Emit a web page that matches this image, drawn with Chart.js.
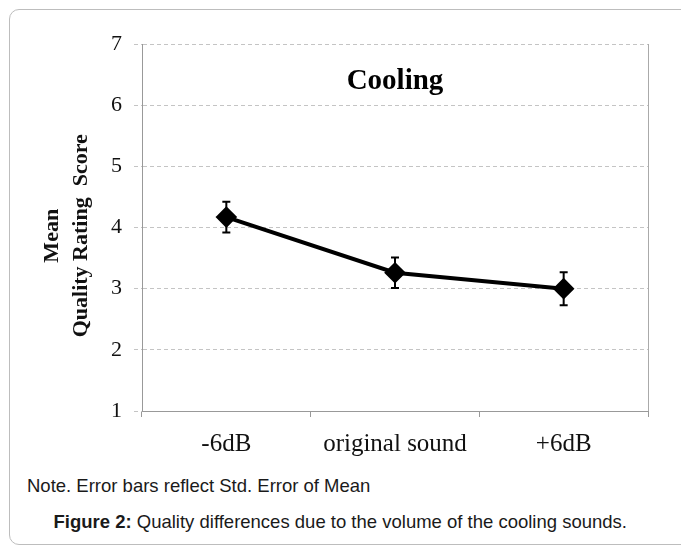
<!DOCTYPE html>
<html>
<head>
<meta charset="utf-8">
<script src="https://cdn.jsdelivr.net/npm/chart.js@4.4.1/dist/chart.umd.min.js"></script>
<style>
  html, body { margin: 0; padding: 0; background: #fff; }
  body { width: 681px; height: 548px; position: relative; overflow: hidden; }
  .frame {
    position: absolute; left: 9px; top: 9px; width: 700px; height: 536px;
    border: 1px solid #bdbdbd; border-radius: 10px; box-sizing: border-box;
  }
  #chart { position: absolute; left: 0; top: 0; }
  .note {
    position: absolute; left: 27px; top: 475px;
    font: 18.5px "Liberation Sans", Arial, sans-serif; color: #1a1a1a; white-space: nowrap;
  }
  .caption {
    position: absolute; right: 54px; top: 511px; text-align: right;
    font: 18.5px "Liberation Sans", Arial, sans-serif; color: #1a1a1a; white-space: nowrap;
  }
</style>
</head>
<body>
<div class="frame"></div>
<canvas id="chart" width="681" height="470"></canvas>
<div class="note">Note. Error bars reflect Std. Error of Mean</div>
<div class="caption"><b>Figure 2:</b> Quality differences due to the volume of the cooling sounds.</div>

<script>
// ===========================
// DATA
// ===========================
const categories = ['-6dB', 'original sound', '+6dB'];
const meanScores = [4.17, 3.26, 3.00];
const stdErrors = [0.25, 0.25, 0.27];
const yMin = 1;
const yMax = 7;
const yStep = 1;
const chartTitle = 'Cooling';
// trailing spaces nudge the rotated title down a little
const yTitle = ['Mean   ', 'Quality Rating  Score   '];

const serif = '"Liberation Serif", "Times New Roman", serif';

// error bars drawn from the y scale
const errorBars = {
  id: 'errorBars',
  afterDatasetsDraw(chart) {
    const { ctx, scales: { y } } = chart;
    const meta = chart.getDatasetMeta(0);
    ctx.save();
    ctx.strokeStyle = '#000';
    ctx.lineWidth = 2;
    meta.data.forEach((pt, i) => {
      const top = y.getPixelForValue(meanScores[i] + stdErrors[i]);
      const bot = y.getPixelForValue(meanScores[i] - stdErrors[i]);
      ctx.beginPath();
      ctx.moveTo(pt.x, top); ctx.lineTo(pt.x, bot);
      ctx.moveTo(pt.x - 4, top); ctx.lineTo(pt.x + 4, top);
      ctx.moveTo(pt.x - 4, bot); ctx.lineTo(pt.x + 4, bot);
      ctx.stroke();
    });
    ctx.restore();
  }
};

// title inside plot + right frame line
const plotDecor = {
  id: 'plotDecor',
  afterDraw(chart) {
    const { ctx, chartArea: a } = chart;
    ctx.save();
    ctx.strokeStyle = '#aaa';
    ctx.lineWidth = 1;
    ctx.beginPath();
    ctx.moveTo(a.right + 0.5, a.top);
    ctx.lineTo(a.right + 0.5, a.bottom);
    ctx.stroke();
    ctx.fillStyle = '#000';
    ctx.font = 'bold 29px ' + serif;
    ctx.textAlign = 'center';
    ctx.textBaseline = 'alphabetic';
    ctx.fillText(chartTitle, (a.left + a.right) / 2, 89);
    ctx.restore();
  }
};

new Chart(document.getElementById('chart'), {
  type: 'line',
  data: {
    labels: categories,
    datasets: [{
      data: meanScores,
      borderColor: '#000',
      borderWidth: 4,
      pointStyle: 'rectRot',
      pointRadius: 8,
      pointBackgroundColor: '#000',
      pointBorderColor: '#000',
      tension: 0
    }]
  },
  options: {
    responsive: false,
    animation: false,
    devicePixelRatio: 1,
    layout: { padding: { left: 0, top: 44, right: 33, bottom: 0 } },
    plugins: { legend: { display: false }, tooltip: { enabled: false } },
    scales: {
      x: {
        type: 'category',
        offset: true,
        afterFit: s => { s.height = 59; },
        grid: { offset: true, drawOnChartArea: false, drawTicks: true, tickLength: 6, color: '#999' },
        border: { color: '#999' },
        ticks: { color: '#111', padding: 12, font: { family: serif, size: 25 } }
      },
      y: {
        min: yMin,
        max: yMax,
        afterFit: s => { s.width = 142; },
        ticks: { stepSize: yStep, color: '#111', padding: 12, font: { family: serif, size: 22 } },
        grid: { color: '#c4c4c4', tickLength: 8, tickColor: '#c4c4c4', tickBorderDash: [4, 3] },
        border: { color: '#999', dash: [4, 3] },
        title: {
          display: true,
          text: yTitle,
          color: '#111',
          padding: { top: 38, bottom: 0 },
          font: { family: serif, size: 22, weight: 'bold', lineHeight: 1.32 }
        }
      }
    }
  },
  plugins: [errorBars, plotDecor]
});
</script>
</body>
</html>
